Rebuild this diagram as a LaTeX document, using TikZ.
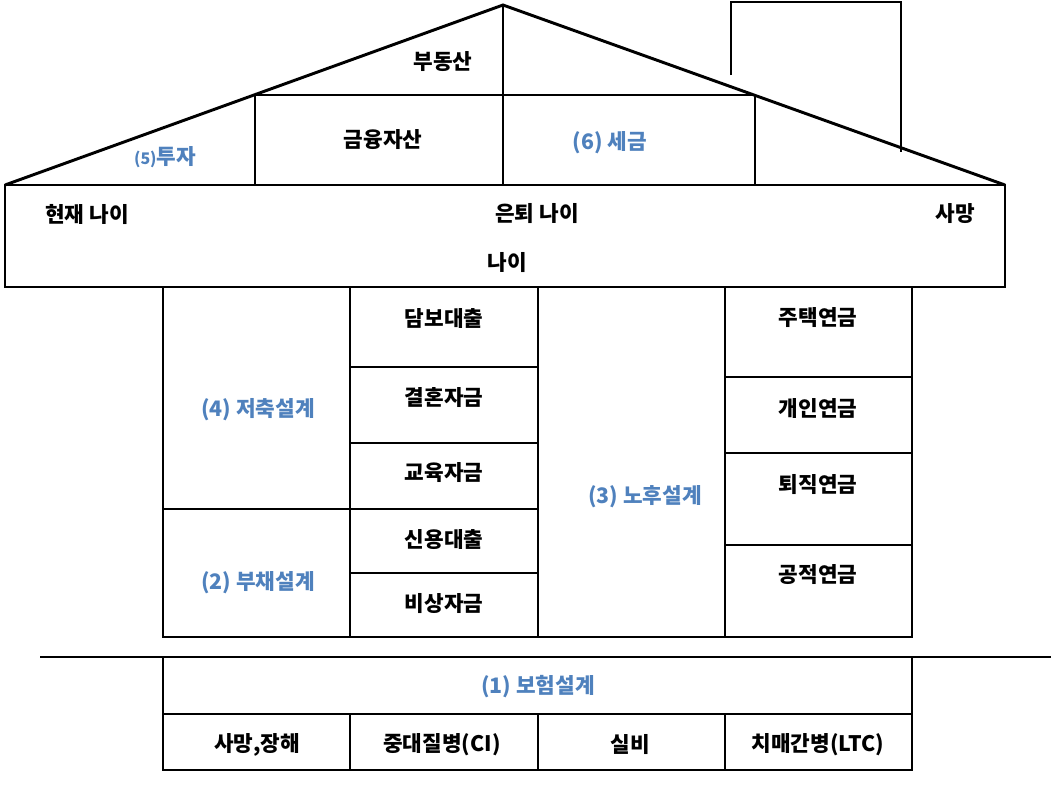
\documentclass[tikz,border=0pt]{standalone}
\usepackage{fontspec}
\newfontfamily\kr{Noto Sans CJK KR}
\definecolor{tblue}{RGB}{79,129,189}
\begin{document}
\begin{tikzpicture}[x=0.75pt,y=-0.75pt,
  lbl/.style={font=\kr\fontsize{16}{19}\selectfont\bfseries,inner sep=0pt},
  blbl/.style={lbl,text=tblue},
  thick3/.style={line width=2.2pt},
  thin1/.style={line width=0.9pt}]
\useasboundingbox (0,0) rectangle (1051,790);
% roof
\draw[thick3,line join=miter] (5,185) -- (503,5) -- (1005,185);
\draw[thin1] (503,5) -- (503,185);
\draw[thin1] (254,95) -- (754,95);
\draw[thin1] (255,95) -- (255,185);
\draw[thin1] (755,95) -- (755,185);
% chimney
\draw[thin1] (731,75) -- (731,2) -- (901,2) -- (901,152);
\node[lbl] (bds) at (443,62) {부동산};
\node[lbl] (gy) at (383,140) {금융자산};
\node[blbl] (tax) at (610,143) {(6) 세금};
\node[blbl] (inv) at (165,157) {{\fontsize{12}{14}\selectfont(5)}투자};
% band
\draw[thick3] (5,185) rectangle (1005,287);
\node[lbl] (now) at (87,214) {현재 나이};
\node[lbl] (ret) at (537,214) {은퇴 나이};
\node[lbl] (die) at (955,214) {사망};
\node[lbl] (age) at (507,263) {나이};
% grid
\draw[thin1] (163,287) rectangle (912,637);
\foreach \x in {350,538,725} \draw[thin1] (\x,287) -- (\x,637);
\draw[thin1] (163,509) -- (350,509);
\foreach \y in {367,443,509,573} \draw[thin1] (350,\y) -- (538,\y);
\foreach \y in {377,453,545} \draw[thin1] (725,\y) -- (912,\y);
\node[blbl] (sav) at (258,410) {(4) 저축설계};
\node[blbl] (debt) at (258,583) {(2) 부채설계};
\node[lbl] (a1) at (444,318) {담보대출};
\node[lbl] (a2) at (444,398) {결혼자금};
\node[lbl] (a3) at (444,473) {교육자금};
\node[lbl] (a4) at (444,540) {신용대출};
\node[lbl] (a5) at (444,604) {비상자금};
\node[blbl] (old) at (645,497) {(3) 노후설계};
\node[lbl] (b1) at (818,318) {주택연금};
\node[lbl] (b2) at (818,408) {개인연금};
\node[lbl] (b3) at (818,485) {퇴직연금};
\node[lbl] (b4) at (818,575) {공적연금};
% ground
\draw[thick3] (40,657) -- (1051,657);
\draw[thin1] (163,657) rectangle (912,770);
\draw[thin1] (163,714) -- (912,714);
\foreach \x in {350,538,725} \draw[thin1] (\x,714) -- (\x,770);
\node[blbl] (ins) at (538,687) {(1) 보험설계};
\node[lbl] (c1) at (257,745) {사망,장해};
\node[lbl] (c2) at (442,745) {중대질병(CI)};
\node[lbl] (c3) at (630,745) {실비};
\node[lbl] (c4) at (818,745) {치매간병(LTC)};
\end{tikzpicture}
\end{document}
